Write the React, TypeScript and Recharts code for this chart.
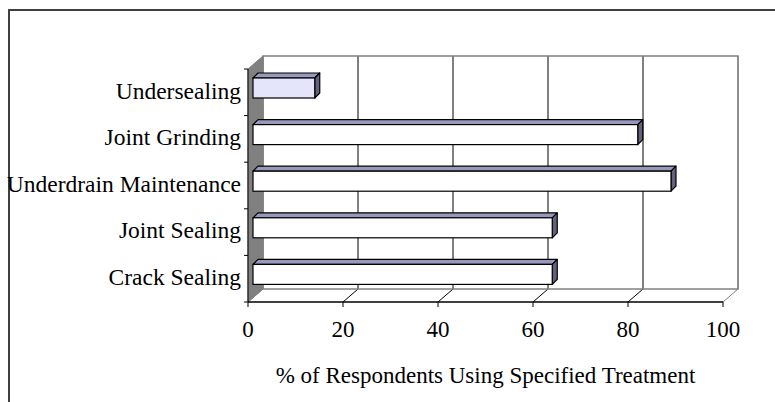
import React from 'react';
import { BarChart, Bar, XAxis, YAxis, CartesianGrid, ReferenceArea, Cell } from 'recharts';

// treatments, top to bottom as in the chart
const treatments = ['Undersealing', 'Joint Grinding', 'Underdrain Maintenance', 'Joint Sealing', 'Crack Sealing'];
const percentUsing = [13, 81, 88, 63, 63];
const xTicks = [0, 20, 40, 60, 80, 100];

const chartData = treatments.map((name, i) => ({ name, value: percentUsing[i] }));

// 3D look: depth of the floor / walls and of the bars
const DX = 15;
const DY = 13;
const BAR_DX = 5;
const BAR_DY = 5;
const WALL = '#808080';
const FONT = '"Liberation Serif", "Times New Roman", serif';

const Bar3D = (props: any) => {
  const { x, y, width, height, fill } = props;
  const fx = x + 5;
  const fy = y - 4;
  const top = `${fx},${fy} ${fx + BAR_DX},${fy - BAR_DY} ${fx + width + BAR_DX},${fy - BAR_DY} ${fx + width},${fy}`;
  const side = `${fx + width},${fy} ${fx + width + BAR_DX},${fy - BAR_DY} ${fx + width + BAR_DX},${fy + height - BAR_DY} ${fx + width},${fy + height}`;
  return (
    <g>
      <polygon points={top} fill="#9898bc" stroke="#000" strokeWidth={1.2} strokeLinejoin="round" />
      <polygon points={side} fill="#62627e" stroke="#000" strokeWidth={1.2} strokeLinejoin="round" />
      <rect x={fx} y={fy} width={width} height={height} fill={fill} stroke="#000" strokeWidth={1.2} />
    </g>
  );
};

// walls, floor edge and category tick marks, from the plot area rectangle
const Walls = (props: any) => {
  const { x, y, width, height } = props;
  const n = treatments.length;
  const wall = `${x},${y} ${x + DX},${y - DY} ${x + DX},${y + height - DY} ${x},${y + height}`;
  return (
    <g>
      <rect x={x + DX} y={y - DY} width={width} height={height} fill="none" stroke={WALL} strokeWidth={1.5} />
      <polygon points={wall} fill={WALL} stroke={WALL} />
      {Array.from({ length: n + 1 }).map((_, i) => (
        <line key={i} x1={x - 4} x2={x} y1={y + (i * height) / n} y2={y + (i * height) / n} stroke="#000" />
      ))}
    </g>
  );
};

const gridLine = (props: any) => {
  const { x1, y1, y2, index } = props;
  const edge = index === 0 || index === xTicks.length - 1;
  const c = edge ? WALL : '#000';
  return (
    <g key={`g-${index}`}>
      <line x1={x1} y1={y2} x2={x1 + DX} y2={y2 - DY} stroke={c} strokeWidth={1} />
      <line x1={x1 + DX} y1={y1 - DY} x2={x1 + DX} y2={y2 - DY} stroke={c} strokeWidth={1} />
    </g>
  );
};

export default function App() {
  return (
    <div style={{ position: 'absolute', left: 0, top: 0, width: 775, height: 402, background: '#fff' }}>
      <div
        style={{
          position: 'absolute',
          left: 8,
          top: 9,
          width: 767,
          height: 393,
          borderTop: '2px solid #404040',
          borderLeft: '2px solid #404040',
          boxSizing: 'border-box',
        }}
      />
      <div style={{ position: 'absolute', left: 0, top: 0 }}>
        <BarChart
          width={775}
          height={402}
          data={chartData}
          layout="vertical"
          margin={{ top: 69, right: 52, left: 8, bottom: 0 }}
          style={{ fontFamily: FONT }}
        >
          <CartesianGrid horizontal={false} vertical={gridLine} />
          <ReferenceArea x1={0} x2={100} shape={<Walls />} ifOverflow="visible" zIndex={-50} />
          <XAxis
            type="number"
            domain={[0, 100]}
            ticks={xTicks}
            interval={0}
            height={100}
            tickSize={5}
            tickMargin={14}
            axisLine={{ stroke: '#000', strokeWidth: 1.5 }}
            tickLine={{ stroke: '#000' }}
            tick={{ fill: '#000', fontSize: 23, fontFamily: FONT }}
            label={{
              value: '% of Respondents Using Specified Treatment',
              position: 'insideBottom',
              offset: 19,
              fill: '#000',
              fontSize: 23,
              fontFamily: FONT,
            }}
          />
          <YAxis
            type="category"
            dataKey="name"
            width={240}
            tickSize={0}
            tickMargin={7}
            tickLine={false}
            axisLine={{ stroke: '#000', strokeWidth: 1 }}
            tick={{ fill: '#000', fontSize: 23.5, fontFamily: FONT, dy: -2 }}
            interval={0}
          />
          <Bar dataKey="value" barSize={20} shape={<Bar3D />} isAnimationActive={false}>
            {chartData.map((d, i) => (
              <Cell key={d.name} fill={i === 0 ? '#e4e4fa' : '#ffffff'} />
            ))}
          </Bar>
        </BarChart>
      </div>
    </div>
  );
}
